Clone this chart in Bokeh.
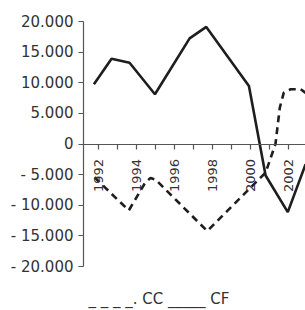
import math
from bokeh.plotting import figure
from bokeh.models import FixedTicker, Title, Range1d
from bokeh.embed import file_html
from bokeh.resources import INLINE

# Data
cf_years = [1991.74, 1992.67, 1993.62, 1994.96, 1996.79, 1997.67, 1999.92, 2000.80, 2001.97, 2002.91]
cf_values = [9760, 13920, 13270, 8130, 17240, 19120, 9480, -5150, -11120, -3300]

cc_years = [1991.77, 1993.58, 1994.46, 1994.73, 1994.99, 1997.72, 2000.80, 2001.32, 2001.55, 2001.76, 2002.12, 2002.65, 2002.91]
cc_values = [-5430, -10850, -6240, -5560, -5800, -14210, -4670, 0, 5950, 8390, 8940, 8940, 8340]

x_label_years = [1992, 1994, 1996, 1998, 2000, 2002]
x_minor_years = [1993, 1995, 1997, 1999, 2001]
y_tick_values = [20000, 15000, 10000, 5000, 0, -5000, -10000, -15000, -20000]
y_tick_labels = ["20.000", "15.000", "10.000", "5.000", "0", "- 5.000", "- 10.000", "- 15.000", "- 20.000"]
legend_text = "_ _ _ _. CC _____ CF"

FONT = "DejaVu Sans"
TEXT_COLOR = "#333333"
AXIS_COLOR = "#555555"
LINE_COLOR = "#1e1e1e"

p = figure(width=305, height=310, output_backend="svg", toolbar_location=None,
           x_range=Range1d(1991.19, 2002.905), y_range=Range1d(-20000, 20000),
           min_border_left=83, min_border_right=0, min_border_top=21, min_border_bottom=43)
p.outline_line_color = None
p.grid.visible = False
p.background_fill_color = "white"
p.border_fill_color = "white"

p.line(cf_years, cf_values, line_color=LINE_COLOR, line_width=2.6)
p.line(cc_years, cc_values, line_color=LINE_COLOR, line_width=2.6, line_dash="7 5")

# y axis
ya = p.yaxis[0]
ya.ticker = FixedTicker(ticks=y_tick_values, minor_ticks=[])
ya.major_label_overrides = {v: s for v, s in zip(y_tick_values, y_tick_labels)}
ya.axis_line_color = AXIS_COLOR
ya.axis_line_width = 1.2
ya.major_tick_line_color = AXIS_COLOR
ya.major_tick_line_width = 1.2
ya.major_tick_out = 5
ya.major_tick_in = 0
ya.minor_tick_line_color = None
ya.major_label_standoff = 5
ya.major_label_text_font = FONT
ya.major_label_text_font_size = "15px"
ya.major_label_text_color = TEXT_COLOR

# x axis at y = 0
xa = p.xaxis[0]
xa.fixed_location = 0
xa.ticker = FixedTicker(ticks=x_label_years, minor_ticks=x_minor_years)
xa.axis_line_color = AXIS_COLOR
xa.axis_line_width = 1.2
xa.major_tick_line_color = AXIS_COLOR
xa.major_tick_line_width = 1.2
xa.minor_tick_line_color = AXIS_COLOR
xa.minor_tick_line_width = 1.2
xa.major_tick_out = 5
xa.major_tick_in = 0
xa.minor_tick_out = 5
xa.minor_tick_in = 0
xa.major_label_orientation = math.pi / 2
xa.major_label_standoff = 10
xa.major_label_text_font = FONT
xa.major_label_text_font_size = "13px"
xa.major_label_text_color = TEXT_COLOR

# blank spacer panel, then the text legend below the plot
spacer = Title(text="\u00a0", standoff=1.5, text_font=FONT, text_font_size="12px",
               text_color="white")
p.add_layout(spacer, "below")
leg = Title(text=legend_text, align="left", offset=5, standoff=6,
            vertical_align="bottom",
            text_font=FONT, text_font_size="15px", text_color=TEXT_COLOR,
            text_font_style="normal")
p.add_layout(leg, "below")

open("out.html", "w").write(file_html(p, INLINE))
